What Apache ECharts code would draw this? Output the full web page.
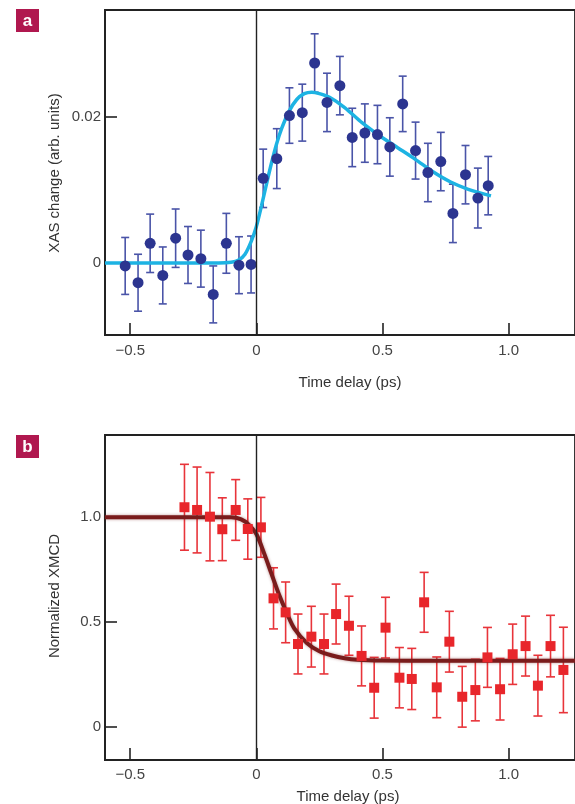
<!DOCTYPE html>
<html>
<head>
<meta charset="utf-8">
<script src="https://cdn.jsdelivr.net/npm/echarts@6/dist/echarts.min.js"></script>
<style>
  html, body { margin: 0; padding: 0; background: #fff; }
  #chart { width: 575px; height: 804px; }
</style>
</head>
<body>
<div id="chart"></div>
<script>
// ---- Panel a: XAS change vs time delay ----
const xasDelay = [-0.520, -0.469, -0.421, -0.371, -0.320, -0.271, -0.220, -0.171, -0.119, -0.069, -0.021,
  0.027, 0.081, 0.131, 0.182, 0.231, 0.280, 0.331, 0.380, 0.430, 0.480, 0.529, 0.580, 0.631, 0.680,
  0.731, 0.779, 0.829, 0.878, 0.919];
const xasValue = [-0.0004, -0.0027, 0.0027, -0.0017, 0.0034, 0.0011, 0.0006, -0.0043, 0.0027, -0.0003, -0.0002,
  0.0116, 0.0143, 0.0202, 0.0206, 0.0274, 0.0220, 0.0243, 0.0172, 0.0178, 0.0176, 0.0159, 0.0218, 0.0154, 0.0124,
  0.0139, 0.0068, 0.0121, 0.0089, 0.0106];
const xasError = [0.0039, 0.0039, 0.0040, 0.0039, 0.0040, 0.0039, 0.0039, 0.0039, 0.0041, 0.0039, 0.0039,
  0.0040, 0.0041, 0.0038, 0.0039, 0.0040, 0.0040, 0.0040, 0.0040, 0.0040, 0.0040, 0.0040, 0.0038, 0.0039, 0.0040,
  0.0040, 0.0040, 0.0040, 0.0041, 0.0040];
// fitted rise-and-decay curve
const xasFitDelay = [-0.6, -0.15, -0.10, -0.07, -0.045, -0.02, 0.0, 0.02, 0.04, 0.06, 0.08, 0.10, 0.13, 0.16,
  0.19, 0.22, 0.25, 0.29, 0.35, 0.42, 0.49, 0.56, 0.63, 0.70, 0.77, 0.84, 0.93];
const xasFitValue = [0, 0, 0.0001, 0.0004, 0.0012, 0.0030, 0.0050, 0.0078, 0.0108, 0.0137, 0.0163, 0.0184,
  0.0208, 0.0224, 0.0232, 0.0234, 0.0232, 0.0227, 0.0213, 0.0192, 0.0174, 0.0158, 0.0142, 0.0125, 0.0111,
  0.0101, 0.0092];

// ---- Panel b: normalized XMCD vs time delay ----
const xmcdDelay = [-0.285, -0.235, -0.184, -0.135, -0.082, -0.034, 0.018, 0.068, 0.116, 0.165, 0.218, 0.268,
  0.316, 0.367, 0.417, 0.467, 0.512, 0.567, 0.616, 0.665, 0.715, 0.765, 0.816, 0.868, 0.916, 0.966, 1.016,
  1.067, 1.116, 1.166, 1.217];
const xmcdValue = [1.048, 1.035, 1.003, 0.943, 1.035, 0.944, 0.952, 0.613, 0.546, 0.395, 0.430, 0.395,
  0.538, 0.482, 0.338, 0.186, 0.473, 0.234, 0.228, 0.594, 0.188, 0.406, 0.143, 0.175, 0.331, 0.179, 0.346,
  0.385, 0.196, 0.385, 0.271];
const xmcdError = [0.205, 0.205, 0.211, 0.150, 0.145, 0.144, 0.143, 0.146, 0.145, 0.143, 0.145, 0.143,
  0.143, 0.141, 0.143, 0.145, 0.145, 0.144, 0.146, 0.143, 0.145, 0.145, 0.145, 0.147, 0.143, 0.147, 0.144,
  0.143, 0.145, 0.147, 0.204];
// fitted demagnetisation curve
const xmcdFitDelay = [-0.6, -0.10, -0.06, -0.03, 0.0, 0.03, 0.06, 0.09, 0.12, 0.15, 0.20, 0.25, 0.30, 0.35,
  0.40, 0.50, 0.70, 1.263];
const xmcdFitValue = [1.0, 1.0, 0.99, 0.965, 0.92, 0.83, 0.73, 0.63, 0.545, 0.47, 0.40, 0.36, 0.34, 0.327,
  0.32, 0.316, 0.315, 0.315];

// ---- Axis ticks ----
const timeTicks = [-0.5, 0, 0.5, 1.0];
const timeTickLabels = ['\u22120.5', '0', '0.5', '1.0'];
const xasTicks = [0, 0.02];
const xasTickLabels = ['0', '0.02'];
const xmcdTicks = [0, 0.5, 1.0];
const xmcdTickLabels = ['0', '0.5', '1.0'];

const FONT = '"Liberation Sans Narrow", "Liberation Sans", Arial, sans-serif';
const AXIS = '#222';
const LABEL = '#444';

function zip(a, b) { return a.map((v, i) => [v, b[i]]); }
function bars(x, y, e) { return x.map((v, i) => [v, y[i] - e[i], y[i] + e[i]]); }

function errorBarRenderer(color, capWidth) {
  return function (params, api) {
    const x = api.value(0);
    const lo = api.coord([x, api.value(1)]);
    const hi = api.coord([x, api.value(2)]);
    const h = capWidth / 2;
    const style = { stroke: color, lineWidth: 1.6 };
    return {
      type: 'group',
      children: [
        { type: 'line', shape: { x1: lo[0], y1: lo[1], x2: hi[0], y2: hi[1] }, style },
        { type: 'line', shape: { x1: hi[0] - h, y1: hi[1], x2: hi[0] + h, y2: hi[1] }, style },
        { type: 'line', shape: { x1: lo[0] - h, y1: lo[1], x2: lo[0] + h, y2: lo[1] }, style }
      ]
    };
  };
}

function timeAxis(gridIndex, margin) {
  return {
    type: 'value', gridIndex, min: -0.6, max: 1.263,
    axisLine: { show: true, onZero: false, lineStyle: { color: AXIS, width: 1.8 } },
    axisTick: { show: true, inside: true, length: 12, customValues: timeTicks,
      lineStyle: { color: AXIS, width: 1.6 } },
    axisLabel: { customValues: timeTicks, margin,
      formatter: v => timeTickLabels[timeTicks.indexOf(v)],
      fontSize: 15, color: LABEL, fontFamily: FONT },
    splitLine: { show: false }
  };
}

function valueAxis(gridIndex, min, max, ticks, labels) {
  return {
    type: 'value', gridIndex, min, max,
    axisLine: { show: true, onZero: false, lineStyle: { color: AXIS, width: 1.8 } },
    axisTick: { show: true, inside: true, length: 12, customValues: ticks,
      lineStyle: { color: AXIS, width: 1.6 } },
    axisLabel: { customValues: ticks, margin: 4,
      formatter: v => labels[ticks.indexOf(v)],
      fontSize: 15, color: LABEL, fontFamily: FONT },
    splitLine: { show: false }
  };
}

const zeroLine = {
  silent: true, symbol: ['none', 'none'], label: { show: false },
  lineStyle: { color: AXIS, width: 1.4, type: 'solid' },
  data: [{ xAxis: 0 }]
};

function panelTag(letter, top) {
  return {
    type: 'group', left: 16, top,
    children: [
      { type: 'rect', shape: { x: 0, y: 0, width: 23, height: 23 }, style: { fill: '#b0184f' } },
      { type: 'text', x: 11.5, y: 12, style: { text: letter, fill: '#fff', font: 'bold 17px "Liberation Sans", Arial, sans-serif', align: 'center', verticalAlign: 'middle' } }
    ]
  };
}

function axisTitle(text, x, y, rotated) {
  return {
    type: 'text', x, y, rotation: rotated ? Math.PI / 2 : 0,
    style: { text, fill: '#333', font: '15px ' + FONT, align: 'center', verticalAlign: 'middle' }
  };
}

const chart = echarts.init(document.getElementById('chart'), null, { renderer: 'canvas' });
chart.setOption({
  animation: false,
  backgroundColor: '#fff',
  grid: [
    { left: 105, top: 10, width: 476, height: 325, show: true, borderColor: AXIS, borderWidth: 1.8, backgroundColor: 'transparent' },
    { left: 105, top: 435, width: 476, height: 325, show: true, borderColor: AXIS, borderWidth: 1.8, backgroundColor: 'transparent' }
  ],
  xAxis: [timeAxis(0, 8), timeAxis(1, 7)],
  yAxis: [
    valueAxis(0, -0.00986, 0.03466, xasTicks, xasTickLabels),
    valueAxis(1, -0.159, 1.393, xmcdTicks, xmcdTickLabels)
  ],
  series: [
    { type: 'custom', xAxisIndex: 0, yAxisIndex: 0, z: 2,
      renderItem: errorBarRenderer('#4a54a8', 8), data: bars(xasDelay, xasValue, xasError) },
    { type: 'line', xAxisIndex: 0, yAxisIndex: 0, z: 3, showSymbol: false, smooth: 0.3,
      lineStyle: { color: '#1db3e3', width: 3.5 }, data: zip(xasFitDelay, xasFitValue), markLine: zeroLine },
    { type: 'scatter', xAxisIndex: 0, yAxisIndex: 0, z: 4, symbol: 'circle', symbolSize: 11,
      itemStyle: { color: '#2c3590', opacity: 1 }, data: zip(xasDelay, xasValue) },

    { type: 'custom', xAxisIndex: 1, yAxisIndex: 1, z: 2,
      renderItem: errorBarRenderer('#e8343a', 9), data: bars(xmcdDelay, xmcdValue, xmcdError) },
    { type: 'line', xAxisIndex: 1, yAxisIndex: 1, z: 3, showSymbol: false, smooth: 0.3,
      lineStyle: { color: '#7a1c1c', width: 4, shadowBlur: 3, shadowColor: 'rgba(122,28,28,0.5)' },
      data: zip(xmcdFitDelay, xmcdFitValue), markLine: zeroLine },
    { type: 'scatter', xAxisIndex: 1, yAxisIndex: 1, z: 4, symbol: 'rect', symbolSize: 10,
      itemStyle: { color: '#e8262b', opacity: 1 }, data: zip(xmcdDelay, xmcdValue) }
  ],
  graphic: [
    panelTag('a', 9),
    panelTag('b', 435),
    axisTitle('XAS change (arb. units)', 55, 173, true),
    axisTitle('Normalized XMCD', 55, 596, true),
    axisTitle('Time delay (ps)', 350, 383, false),
    axisTitle('Time delay (ps)', 348, 797, false)
  ]
});
</script>
</body>
</html>
